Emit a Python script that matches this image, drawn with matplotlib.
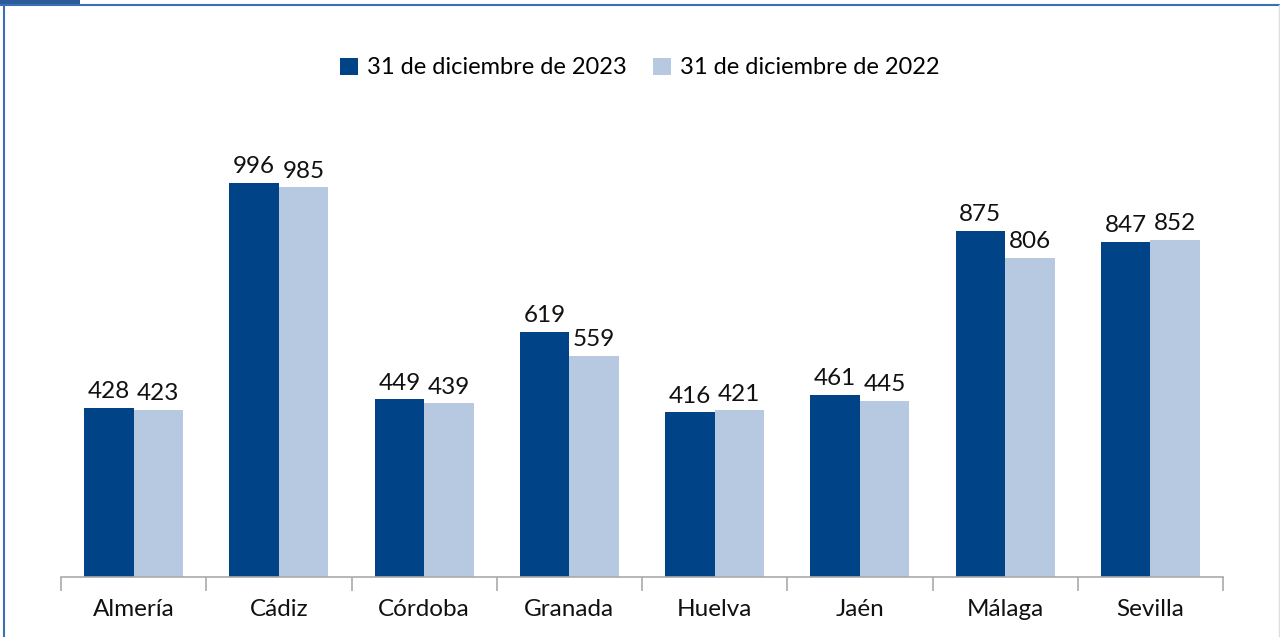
import matplotlib.pyplot as plt
import numpy as np
from matplotlib.lines import Line2D
from matplotlib.patches import Rectangle

# Provinces and values
provincias = ['Almería', 'Cádiz', 'Córdoba', 'Granada', 'Huelva', 'Jaén', 'Málaga', 'Sevilla']
dic_2023 = [428, 996, 449, 619, 416, 461, 875, 847]
dic_2022 = [423, 985, 439, 559, 421, 445, 806, 852]

plt.rcParams['font.family'] = ['Lato', 'DejaVu Sans']

W, H = 1280, 637
fig = plt.figure(figsize=(W / 100, H / 100), dpi=100)

# frame decorations
fig.add_artist(Rectangle((0, 1 - 4 / H), 80 / W, 4 / H, transform=fig.transFigure, color='#2a5c9a', lw=0))
fig.add_artist(Line2D([0, 1], [1 - 5 / H, 1 - 5 / H], transform=fig.transFigure, color='#3a6fb5', lw=1.5))
fig.add_artist(Line2D([4 / W, 4 / W], [0, 1 - 5 / H], transform=fig.transFigure, color='#3a6fb5', lw=1.5))
fig.add_artist(Line2D([1 - 1 / W, 1 - 1 / W], [0, 1 - 5 / H], transform=fig.transFigure, color='#dddddd', lw=1))

ax = fig.add_axes([61 / W, (H - 577) / H, (1223 - 61) / W, 475 / H])

x = np.arange(len(provincias))
w = 0.34
b1 = ax.bar(x - w / 2, dic_2023, w, color='#004386', label='31 de diciembre de 2023')
b2 = ax.bar(x + w / 2, dic_2022, w, color='#b7c9e0', label='31 de diciembre de 2022')

for bars in (b1, b2):
    for r in bars:
        ax.annotate(f'{int(r.get_height())}', (r.get_x() + r.get_width() / 2, r.get_height()),
                    xytext=(0, 4), textcoords='offset points', ha='center', va='bottom',
                    fontsize=17.5, color='#111111')

ax.set_xlim(-0.5, len(provincias) - 0.5)
ax.set_ylim(0, 1200)
ax.set_yticks([])
for s in ['top', 'right', 'left']:
    ax.spines[s].set_visible(False)
ax.spines['bottom'].set_color('#aaaaaa')
ax.spines['bottom'].set_linewidth(1.2)

ax.set_xticks(np.arange(-0.5, len(provincias), 1))
ax.set_xticklabels([])
ax.tick_params(axis='x', which='major', length=10, color='#aaaaaa', width=1.2)
ax.set_xticks(x, minor=True)
ax.set_xticklabels(provincias, minor=True, fontsize=17.5, color='#111111')
ax.tick_params(axis='x', which='minor', length=0, pad=16)

fig.legend(loc='center', bbox_to_anchor=(0.5, 1 - 68 / H), ncol=2, frameon=False,
           fontsize=17, handlelength=0.75, handleheight=0.75, handletextpad=0.4, columnspacing=1.1)

fig.savefig('out.png', dpi=100)
